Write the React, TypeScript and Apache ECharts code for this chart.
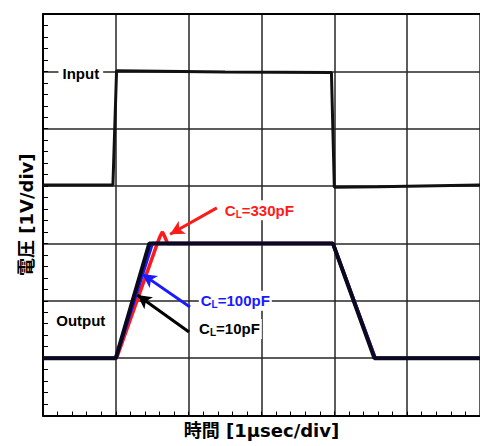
import React, { useEffect, useRef } from "react";
import * as echarts from "echarts";

// time in µs (1 div = 1 µs), voltage in divisions (1 div = 1 V, offset display)
const inputTrace: number[][] = [
  [0, 4.02], [0.96, 4.02], [1.01, 6.01], [2.5, 5.99], [3.96, 5.98], [4.0, 3.98], [4.6, 3.99], [6, 4.02],
];
const out330pF: number[][] = [
  [0, 1.0], [1.01, 1.0], [1.57, 3.0], [1.61, 3.13], [1.64, 3.2], [1.67, 3.12], [1.71, 3.0], [3.98, 3.0], [4.56, 1.0], [6, 1.0],
];
const out100pF: number[][] = [
  [0, 1.0], [1.0, 1.0], [1.5, 3.0], [3.98, 3.0], [4.56, 1.0], [6, 1.0],
];
const out10pF: number[][] = [
  [0, 1.0], [1.0, 1.0], [1.46, 3.0], [3.98, 3.0], [4.55, 1.0], [6, 1.0],
];

// annotation positions (data coords)
const labelInput = [0.519, 5.97];
const labelOutput = [0.519, 1.65];
const label330 = [2.97, 3.58];
const label100 = [2.64, 2.0];
const label10 = [2.56, 1.51];

const arrow330 = [[2.387, 3.62], [1.745, 3.16]];
const arrow100 = [[2.018, 1.89], [1.364, 2.465]];
const arrow10 = [[2.005, 1.455], [1.295, 2.1]];

const xTitle = "時間 [1µsec/div]";
const yTitle = "電圧 [1V/div]";

const FONT = '"Liberation Sans", Arial, "Noto Sans CJK JP", sans-serif';
const TITLE_FONT = '"DejaVu Sans", "Noto Sans CJK JP", sans-serif';

function clLabel(pos: number[], value: string, color: string) {
  return {
    value: pos,
    label: {
      show: true,
      position: "inside",
      formatter: `{c|C}{s|L}{c|=${value}}`,
      backgroundColor: "#fff",
      padding: [1, 2],
      textBorderWidth: 0,
      opacity: 1,
      rich: {
        c: { fontSize: 15, fontWeight: "bold", color, fontFamily: FONT, textBorderWidth: 0 },
        s: { fontSize: 10, fontWeight: "bold", color, fontFamily: FONT, textBorderWidth: 0, padding: [8, 0, 0, 0] },
      },
    },
  };
}

function plainLabel(pos: number[], text: string) {
  return {
    value: pos,
    label: {
      show: true,
      position: "inside",
      formatter: text,
      backgroundColor: "#fff",
      padding: [1, 4],
      fontSize: 15,
      fontWeight: "bold",
      color: "#000",
      textBorderWidth: 0,
      opacity: 1,
      fontFamily: FONT,
    },
  };
}

function arrowLine(pts: number[][], color: string) {
  return {
    silent: true,
    symbol: ["none", "arrow"],
    symbolSize: [11, 14],
    label: { show: false },
    lineStyle: { color, width: 3, type: "solid", opacity: 1 },
    data: [[{ coord: pts[0] }, { coord: pts[1] }]],
  };
}

export default function App() {
  const ref = useRef<HTMLDivElement>(null);
  useEffect(() => {
    if (!ref.current) return;
    const chart = echarts.init(ref.current, null, { renderer: "svg" });
    const gridColor = "#262626";
    chart.setOption({
      animation: false,
      grid: { left: 43, top: 14, right: -2.5, bottom: 30.5 },
      xAxis: [
        {
          type: "value",
          min: 0,
          max: 6,
          interval: 1,
          name: xTitle,
          nameLocation: "middle",
          nameGap: 6,
          nameTextStyle: { fontSize: 18, fontWeight: "bold", color: "#000", fontFamily: TITLE_FONT, verticalAlign: "top" },
          axisLine: { show: true, lineStyle: { color: "#000", width: 2 } },
          axisTick: { show: true, inside: true, length: 4, lineStyle: { color: "#000", width: 1 } },
          minorTick: { show: true, splitNumber: 5, length: 4, lineStyle: { color: "#000", width: 1 } },
          axisLabel: { show: false },
          splitLine: { show: true, lineStyle: { color: gridColor, width: 1.5 } },
        },
        {
          type: "value",
          position: "top",
          min: 0,
          max: 6,
          interval: 1,
          axisLine: { show: true, lineStyle: { color: "#000", width: 2 } },
          axisTick: { show: false },
          axisLabel: { show: false },
          splitLine: { show: false },
        },
      ],
      yAxis: {
        type: "value",
        min: 0,
        max: 7,
        interval: 1,
        name: yTitle,
        nameLocation: "middle",
        nameGap: 8,
        nameRotate: 90,
        nameTextStyle: { fontSize: 18, fontWeight: "bold", color: "#000", fontFamily: TITLE_FONT },
        axisLine: { show: true, lineStyle: { color: "#000", width: 2 } },
        axisTick: { show: true, inside: true, length: 5, lineStyle: { color: "#000", width: 1 } },
        minorTick: { show: true, splitNumber: 5, length: 5, lineStyle: { color: "#000", width: 1 } },
        axisLabel: { show: false },
        splitLine: { show: true, lineStyle: { color: gridColor, width: 1.5 } },
      },
      series: [
        {
          type: "line",
          name: "Input",
          data: inputTrace,
          symbol: "none",
          silent: true,
          lineStyle: { color: "#111", width: 3 },
          z: 3,
        },
        {
          type: "line",
          name: "CL=330pF",
          data: out330pF,
          symbol: "none",
          silent: true,
          lineStyle: { color: "#ff1a1a", width: 3.5 },
          markLine: arrowLine(arrow330, "#ff1a1a"),
          z: 3,
        },
        {
          type: "line",
          name: "CL=100pF",
          data: out100pF,
          symbol: "none",
          silent: true,
          lineStyle: { color: "#1a1aff", width: 3.5 },
          markLine: arrowLine(arrow100, "#1a1aff"),
          z: 4,
        },
        {
          type: "line",
          name: "CL=10pF",
          data: out10pF,
          symbol: "none",
          silent: true,
          lineStyle: { color: "#0a0a1e", width: 4 },
          markLine: arrowLine(arrow10, "#000"),
          z: 5,
        },
        {
          type: "scatter",
          symbolSize: 0.1,
          silent: true,
          itemStyle: { color: "#fff", opacity: 1 },
          z: 10,
          data: [
            plainLabel(labelInput, "Input"),
            plainLabel(labelOutput, "Output"),
            clLabel(label330, "330pF", "#ff1a1a"),
            clLabel(label100, "100pF", "#1a1aff"),
            clLabel(label10, "10pF", "#000"),
          ],
        },
      ],
    });
    return () => chart.dispose();
  }, []);
  return (
    <div
      ref={ref}
      style={{ position: "fixed", left: 0, top: 0, width: 480, height: 446, background: "#fff" }}
    />
  );
}
